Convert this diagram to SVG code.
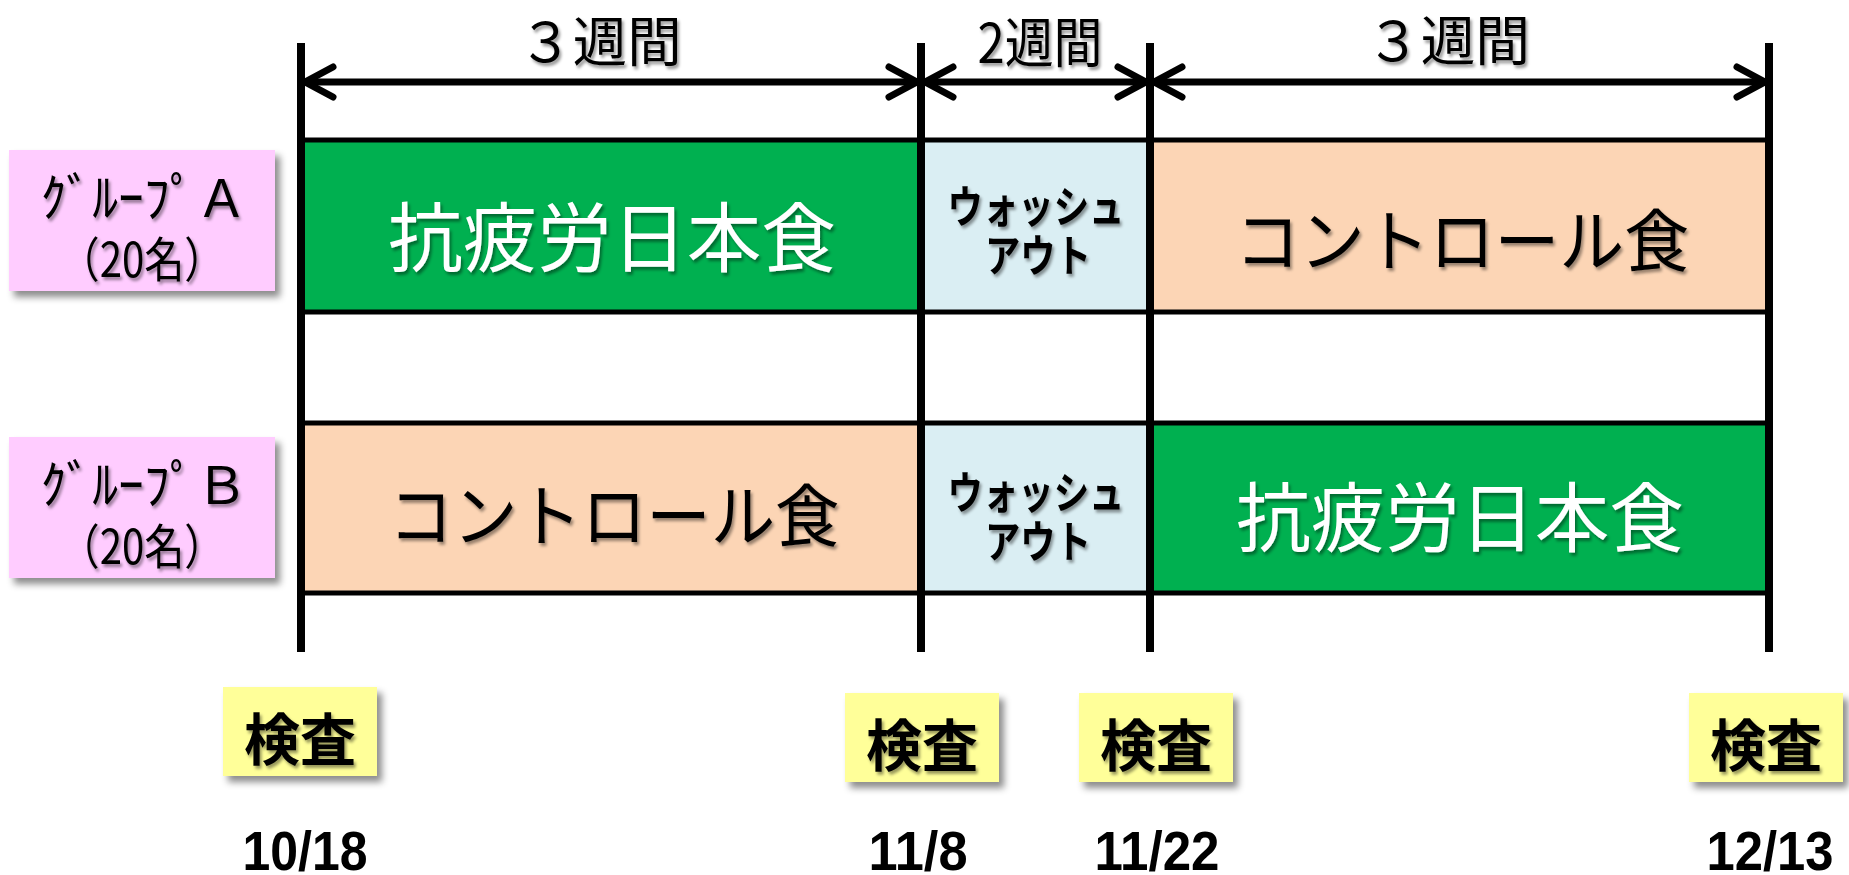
<svg xmlns="http://www.w3.org/2000/svg" width="1849" height="875" viewBox="0 0 1849 875">
  <style>
    .jp { font-family: "Noto Sans CJK JP", "Noto Sans", sans-serif; }
    .blk { fill: #000; }
    .wht { fill: #fff; }
    .big { font-size: 76px; }
    .ctl { font-size: 68px; }
    .wash { font-size: 44px; font-weight: bold; }
    .week { font-size: 54px; }
    .grp { font-size: 52px; }
    .num { font-size: 48px; }
    .kensa { font-size: 56px; font-weight: bold; }
    .date { font-family: "Liberation Sans", Arial, sans-serif; font-size: 55px; font-weight: bold; fill: #000; }
    .cell { stroke: #000; stroke-width: 5; }
    .green { fill: #00B050; }
    .peach { fill: #FCD5B5; }
    .blue { fill: #DAEEF3; }
    .pink { fill: #FFCCFF; }
    .yellow { fill: #FFFF99; }
    .vline { stroke: #000; stroke-width: 8; }
    .dim { stroke: #000; stroke-width: 7; fill: none; }
  </style>
  <defs>
    <filter id="ts" x="-10%" y="-20%" width="130%" height="150%">
      <feDropShadow dx="2" dy="3" stdDeviation="1.5" flood-color="#000" flood-opacity="0.4"/>
    </filter>
    <filter id="bs" x="-10%" y="-10%" width="130%" height="130%">
      <feDropShadow dx="5" dy="6" stdDeviation="3.5" flood-color="#000" flood-opacity="0.45"/>
    </filter>
    <marker id="ah" viewBox="-35 -20 40 40" refX="0" refY="0" markerWidth="40" markerHeight="40" markerUnits="userSpaceOnUse" orient="auto-start-reverse" overflow="visible">
      <path d="M-28,-15 L0,0 L-28,15" fill="none" stroke="#000" stroke-width="7" stroke-linecap="round" stroke-linejoin="round"/>
    </marker>
  </defs>

  <rect width="1849" height="875" fill="#fff"/>

  <!-- Group A row -->
  <g id="rowA">
    <rect class="cell green" x="301" y="140" width="620" height="172"/>
    <rect class="cell blue" x="921" y="140" width="229" height="172"/>
    <rect class="cell peach" x="1150" y="140" width="619" height="172"/>
  </g>
  <!-- Group B row -->
  <g id="rowB">
    <rect class="cell peach" x="301" y="423" width="620" height="170"/>
    <rect class="cell blue" x="921" y="423" width="229" height="170"/>
    <rect class="cell green" x="1150" y="423" width="619" height="170"/>
  </g>

  <g id="a-diet1">
    <text class="jp wht big" x="612" y="233" text-anchor="middle" dominant-baseline="central" textLength="448" lengthAdjust="spacingAndGlyphs" filter="url(#ts)">抗疲労日本食</text>
  </g>
  <g id="a-wash">
    <text class="jp blk wash" x="1036" y="204" text-anchor="middle" dominant-baseline="central" textLength="177" lengthAdjust="spacingAndGlyphs" filter="url(#ts)">ウォッシュ</text>
    <text class="jp blk wash" x="1038" y="253" text-anchor="middle" dominant-baseline="central" textLength="106" lengthAdjust="spacingAndGlyphs" filter="url(#ts)">アウト</text>
  </g>
  <g id="a-diet2">
    <text class="jp blk ctl" x="1462" y="236" text-anchor="middle" dominant-baseline="central" textLength="454" lengthAdjust="spacingAndGlyphs" filter="url(#ts)">コントロール食</text>
  </g>
  <g id="b-diet1">
    <text class="jp blk ctl" x="614" y="511" text-anchor="middle" dominant-baseline="central" textLength="451" lengthAdjust="spacingAndGlyphs" filter="url(#ts)">コントロール食</text>
  </g>
  <g id="b-wash">
    <text class="jp blk wash" x="1036" y="490" text-anchor="middle" dominant-baseline="central" textLength="177" lengthAdjust="spacingAndGlyphs" filter="url(#ts)">ウォッシュ</text>
    <text class="jp blk wash" x="1038" y="539" text-anchor="middle" dominant-baseline="central" textLength="106" lengthAdjust="spacingAndGlyphs" filter="url(#ts)">アウト</text>
  </g>
  <g id="b-diet2">
    <text class="jp wht big" x="1460" y="513" text-anchor="middle" dominant-baseline="central" textLength="448" lengthAdjust="spacingAndGlyphs" filter="url(#ts)">抗疲労日本食</text>
  </g>

  <!-- Group labels -->
  <g id="groupA">
    <rect class="pink" x="9" y="150" width="266" height="141" filter="url(#bs)"/>
    <text class="jp blk grp" x="144" y="194" text-anchor="middle" dominant-baseline="central" textLength="207" lengthAdjust="spacingAndGlyphs" filter="url(#ts)">ｸﾞﾙｰﾌﾟＡ</text>
    <text class="jp blk num" x="142" y="256" text-anchor="middle" dominant-baseline="central" textLength="165" lengthAdjust="spacingAndGlyphs" filter="url(#ts)">（20名）</text>
  </g>
  <g id="groupB">
    <rect class="pink" x="9" y="437" width="266" height="141" filter="url(#bs)"/>
    <text class="jp blk grp" x="144" y="481" text-anchor="middle" dominant-baseline="central" textLength="207" lengthAdjust="spacingAndGlyphs" filter="url(#ts)">ｸﾞﾙｰﾌﾟＢ</text>
    <text class="jp blk num" x="142" y="543" text-anchor="middle" dominant-baseline="central" textLength="165" lengthAdjust="spacingAndGlyphs" filter="url(#ts)">（20名）</text>
  </g>

  <!-- Connectors: time lines and duration arrows -->
  <g id="connectors">
    <line class="vline" x1="301" y1="43" x2="301" y2="652"/>
    <line class="vline" x1="921" y1="43" x2="921" y2="652"/>
    <line class="vline" x1="1150" y1="43" x2="1150" y2="652"/>
    <line class="vline" x1="1769" y1="43" x2="1769" y2="652"/>
    <line class="dim" x1="305" y1="82" x2="917" y2="82" marker-start="url(#ah)" marker-end="url(#ah)"/>
    <line class="dim" x1="925" y1="82" x2="1146" y2="82" marker-start="url(#ah)" marker-end="url(#ah)"/>
    <line class="dim" x1="1154" y1="82" x2="1765" y2="82" marker-start="url(#ah)" marker-end="url(#ah)"/>
  </g>

  <!-- Duration labels -->
  <g id="week1">
    <text class="jp blk week" x="600" y="38" text-anchor="middle" dominant-baseline="central" textLength="163" lengthAdjust="spacingAndGlyphs" filter="url(#ts)">３週間</text>
  </g>
  <g id="week2">
    <text class="jp blk week" x="1040" y="39" text-anchor="middle" dominant-baseline="central" textLength="125" lengthAdjust="spacingAndGlyphs" filter="url(#ts)">2週間</text>
  </g>
  <g id="week3">
    <text class="jp blk week" x="1448" y="37" text-anchor="middle" dominant-baseline="central" textLength="164" lengthAdjust="spacingAndGlyphs" filter="url(#ts)">３週間</text>
  </g>

  <!-- Exam boxes -->
  <g id="exam1">
    <rect class="yellow" x="223" y="687" width="154" height="89" filter="url(#bs)"/>
    <text class="jp blk kensa" x="300" y="735" text-anchor="middle" dominant-baseline="central" filter="url(#ts)">検査</text>
  </g>
  <g id="exam2">
    <rect class="yellow" x="845" y="693" width="154" height="89" filter="url(#bs)"/>
    <text class="jp blk kensa" x="922" y="741" text-anchor="middle" dominant-baseline="central" filter="url(#ts)">検査</text>
  </g>
  <g id="exam3">
    <rect class="yellow" x="1079" y="693" width="154" height="89" filter="url(#bs)"/>
    <text class="jp blk kensa" x="1156" y="741" text-anchor="middle" dominant-baseline="central" filter="url(#ts)">検査</text>
  </g>
  <g id="exam4">
    <rect class="yellow" x="1689" y="693" width="154" height="89" filter="url(#bs)"/>
    <text class="jp blk kensa" x="1766" y="741" text-anchor="middle" dominant-baseline="central" filter="url(#ts)">検査</text>
  </g>

  <!-- Dates -->
  <g id="dates">
    <text class="date" x="305" y="870" text-anchor="middle" textLength="125" lengthAdjust="spacingAndGlyphs">10/18</text>
    <text class="date" x="918" y="870" text-anchor="middle" textLength="99" lengthAdjust="spacingAndGlyphs">11/8</text>
    <text class="date" x="1157" y="870" text-anchor="middle" textLength="125" lengthAdjust="spacingAndGlyphs">11/22</text>
    <text class="date" x="1770" y="870" text-anchor="middle" textLength="127" lengthAdjust="spacingAndGlyphs">12/13</text>
  </g>
</svg>
